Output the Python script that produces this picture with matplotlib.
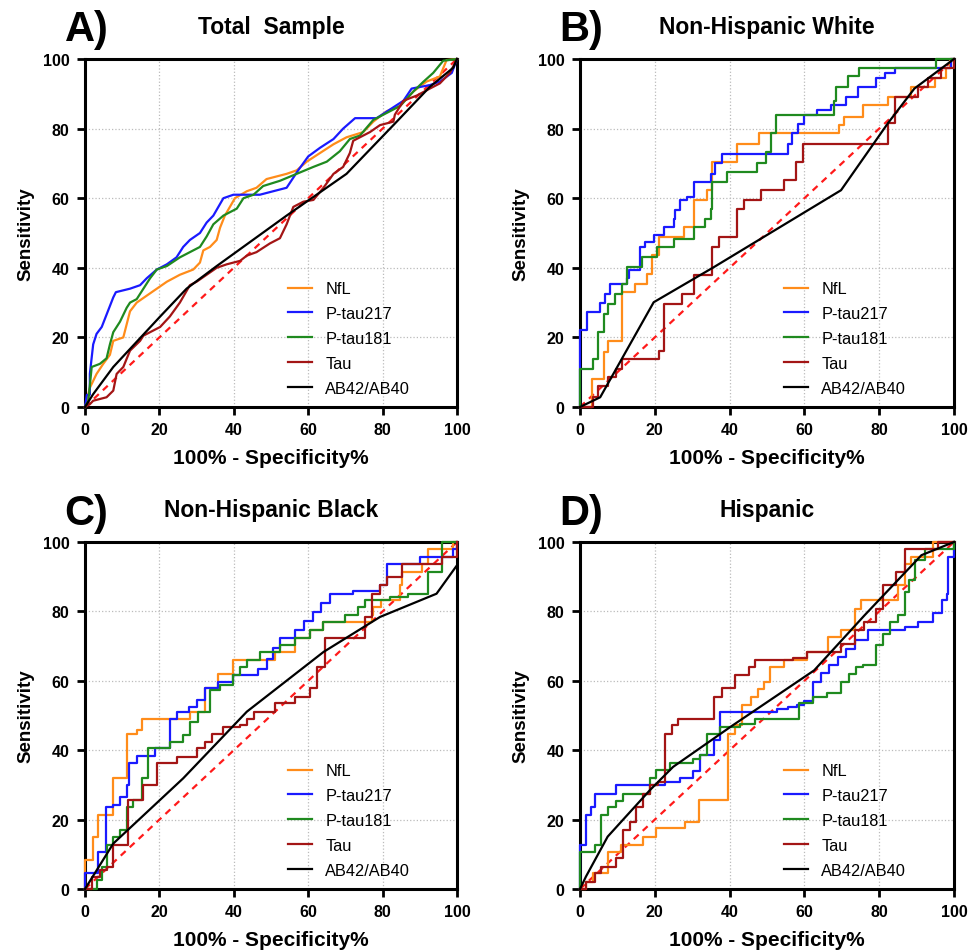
import numpy as np
import matplotlib.pyplot as plt

plt.rcParams['font.family'] = ['Liberation Sans', 'DejaVu Sans']

names = ['NfL', 'P-tau217', 'P-tau181', 'Tau', 'AB42/AB40']
colors = ['#FF8C1A', '#1A1AFF', '#1F8A1F', '#A31515', '#000000']
titles = ['Total  Sample', 'Non-Hispanic White', 'Non-Hispanic Black', 'Hispanic']
letters = ['A)', 'B)', 'C)', 'D)']

# ---- A) Total sample (dense curves, drawn as polylines)
a_nfl_x = [0, 0.45, 1.3, 3.1, 4.9, 6.7, 7.6, 10.3, 12.1, 13.9, 16.6, 19.3, 22.0, 25.5, 29.1, 30.9, 31.8, 33.6, 35.4,
           36.3, 37.6, 40.3, 43.5, 46.1, 48.8, 54.2, 56.9, 59.6, 63.2, 66.8, 70.3, 74.8, 77.5, 81.1, 84.7, 88.3, 91.8,
           95.4, 97.2, 100]
a_nfl_y = [0, 1.8, 5.5, 9.5, 12.4, 15, 19, 20, 27.5, 30, 32, 34, 36, 38, 39.5, 41.5, 45, 46, 48, 51.5, 55, 60, 62, 63,
           65.5, 67, 68, 70.5, 73, 75.5, 77.5, 79, 82, 85, 86.5, 90.7, 93.5, 95, 99.7, 100]
a_217_x = [0, 0.5, 1.3, 1.3, 2.2, 3.1, 4.5, 7.6, 8.3, 12.1, 14.8, 16.6, 19.3, 22.0, 24.6, 26.4, 28.2, 30.9, 32.7, 34.5,
           37.2, 39.9, 47.0, 50.6, 54.2, 57.3, 60.0, 63.2, 66.8, 69.4, 72.6, 78.4, 82.0, 85.6, 87.8, 92.7, 95.4, 98.6, 100]
a_217_y = [0, 3.5, 3.5, 9.5, 18, 21, 23, 31.5, 33, 34, 35, 37, 39.5, 41, 43, 46, 48, 50, 53, 55, 60, 61, 61, 62, 63, 68,
           72, 74.5, 77, 80, 83, 83, 85.5, 88, 91.5, 92.5, 93.5, 96, 100]
a_181_x = [0, 0.9, 1.8, 4.0, 5.8, 6.7, 7.6, 9.4, 11.2, 12.1, 13.9, 15.7, 17.5, 19.3, 22.0, 25.5, 28.2, 30.9, 32.7, 34.5,
           37.2, 40.8, 42.6, 45.3, 47.9, 52.4, 56.9, 61.4, 65.0, 68.5, 71.2, 73.9, 77.5, 80.2, 84.7, 88.3, 91.0, 93.6,
           96.3, 100]
a_181_y = [0, 1.8, 11.5, 12.4, 14, 18, 21.5, 24.5, 28.5, 30, 31, 34, 37, 39.5, 40.5, 43, 44.5, 46, 49, 52.5, 55, 57, 60,
           61, 63.5, 65, 67, 69, 70.5, 73.5, 77, 78, 82.5, 84, 86.5, 90.7, 93.5, 96, 99.5, 100]
a_tau_x = [0, 1.3, 2.2, 5.8, 7.6, 8.5, 10.3, 12.1, 14.8, 15.7, 20.2, 22.8, 25.5, 28.2, 30.0, 32.7, 35.4, 38.1, 41.7,
           43.5, 46.1, 49.7, 52.4, 54.2, 56.0, 58.7, 61.4, 64.1, 66.8, 69.4, 71.2, 72.1, 73.9, 76.6, 79.3, 82.9, 83.3,
           85.6, 89.2, 92.7, 95.4, 98.1, 100]
a_tau_y = [0, 0.8, 1.8, 2.8, 4.7, 9.5, 11.5, 16.2, 19, 20.5, 23, 26, 30, 35, 36, 38, 40, 41, 42, 43.5, 44.5, 47, 48.5,
           52.5, 57.5, 59, 59.5, 63, 67, 69, 73, 76.5, 77.5, 79, 81, 82, 84, 88, 89.5, 91.5, 93, 96, 100]
a_ab_x = [0, 2.2, 7.6, 20.2, 27.3, 35.4, 54.2, 70.3, 83.8, 92.7, 99.0, 100]
a_ab_y = [0, 3.7, 11.5, 26, 34, 40.5, 55, 67, 82, 92, 97.5, 100]

# ---- B) Non-Hispanic White (step curves)
b_nfl_x = [0, 3.1, 6.3, 7.6, 11.2, 14.8, 17.9, 19.2, 21.0, 27.7, 30.4, 34.0, 35.3, 42.0, 47.9, 69.3, 70.7, 75.6, 82.3,
           88.6, 94.8, 97.9, 98.8, 100]
b_nfl_y = [0, 8, 15.7, 19, 33, 35.4, 38.3, 43.6, 48.8, 51.7, 59.4, 62.3, 70.4, 75.7, 78.6, 81, 83.4, 86.8, 89.2, 92,
           94.4, 97.3, 100, 100]
b_217_x = [0, 0, 1.8, 5.4, 6.7, 8.0, 12.5, 13.2, 16.1, 17.5, 19.7, 22.4, 25.0, 25.5, 26.8, 28.6, 30.4, 34.9, 36.0, 38.0,
           55.5, 56.8, 58.3, 59.9, 63.5, 67.1, 71.0, 74.2, 79.2, 81.5, 84.1, 99.3, 100]
b_217_y = [0, 22, 27.3, 30, 32.5, 35.4, 37, 39.3, 46, 47.5, 49.3, 51.7, 54, 56.5, 59.4, 60.4, 64.7, 67, 70, 72.8, 75.5,
           78.6, 81.3, 83.9, 85.4, 86.8, 89, 92, 94.5, 96, 97.3, 100, 100]
b_181_x = [0, 0, 3.4, 4.9, 6.3, 7.6, 9.4, 11.2, 12.5, 16.5, 20.6, 25.0, 30.5, 33.5, 34.9, 35.3, 39.4, 47.4, 49.6, 51.0,
           52.3, 68.0, 68.4, 71.6, 74.7, 95.3, 100]
b_181_y = [0, 11, 13.8, 21.5, 26.8, 29.7, 32.5, 35.4, 40.2, 43, 46, 48.4, 51.7, 54, 57, 64.7, 67.6, 70, 73.3, 78.6,
           83.9, 88, 92, 95, 97.3, 100, 100]
b_tau_x = [0, 3.5, 4.9, 7.6, 9.5, 11.2, 21.0, 22.4, 27.3, 30.4, 35.3, 37.1, 42.0, 43.8, 48.3, 54.6, 57.7, 59.5, 82.3,
           84.1, 90.3, 93.0, 96.6, 100]
b_tau_y = [0, 2.8, 6, 8.5, 11, 13.8, 16.2, 29.7, 32.5, 37.8, 46, 48.8, 57, 59.4, 62.3, 65.2, 70.4, 75.7, 81.5, 89.2, 92,
           94.4, 97.3, 100]
b_ab_x = [0, 5.4, 19.7, 35.8, 69.8, 82.3, 89.4, 100]
b_ab_y = [0, 2.8, 30.1, 40.2, 62.3, 81.5, 91.5, 100]

# ---- C) Non-Hispanic Black
c_nfl_x = [0, 0, 2.1, 3.6, 7.6, 11.2, 13.9, 15.2, 28.2, 32.3, 35.8, 39.9, 51.1, 56.5, 60.5, 64.1, 77.1, 77.5, 79.7,
           84.7, 85.1, 90.5, 92.3, 99.0, 100]
c_nfl_y = [0, 8.5, 15, 21.3, 31.9, 44.8, 45.8, 49.1, 51.1, 57.8, 62.1, 65.9, 68.3, 72.2, 74.6, 77, 79, 81.3, 83.2,
           87.5, 91.4, 93.8, 98.1, 100, 100]
c_217_x = [0, 0, 3.6, 5.6, 7.6, 9.4, 11.2, 11.9, 13.9, 18.8, 22.8, 24.6, 28.0, 30.0, 32.3, 35.8, 39.9, 46.5, 48.8, 50.5,
           52.4, 56.5, 59.0, 61.4, 63.5, 65.9, 72.1, 79.3, 81.1, 90.1, 99.0, 100]
c_217_y = [0, 4.5, 10.7, 23.7, 24.2, 26.6, 29.9, 36.2, 38.3, 40.5, 49.1, 51.1, 52.5, 54.5, 57.8, 59.7, 61.6, 63.5, 66.4,
           69.5, 72.2, 74.6, 77.3, 79.8, 82.5, 85.1, 86, 87.5, 93.8, 95.7, 98.1, 100]
c_181_x = [0, 3.1, 4.5, 5.8, 7.6, 9.4, 11.2, 13.0, 15.2, 17.0, 22.8, 26.4, 28.2, 30.5, 33.6, 36.3, 39.9, 41.7, 43.5,
           47.0, 52.4, 56.5, 60.5, 64.1, 69.9, 73.5, 75.3, 81.9, 86.9, 92.3, 95.9, 100]
c_181_y = [0, 2.6, 6.4, 12.7, 15.1, 17, 23.7, 25.6, 31.9, 40.5, 42.4, 44.3, 48.2, 51.1, 57.3, 58.7, 61.6, 64, 65.9,
           68.3, 70.2, 72.2, 74.6, 77, 78.9, 81.3, 83.2, 84.2, 85.1, 91.4, 100, 100]
c_tau_x = [0, 1.8, 4.0, 5.8, 7.6, 11.6, 15.7, 19.3, 24.6, 30.0, 32.3, 34.1, 37.2, 41.7, 43.5, 45.3, 51.1, 56.5, 60.5,
           62.3, 64.5, 75.3, 77.1, 79.3, 81.1, 85.1, 95.9, 100]
c_tau_y = [0, 3.6, 5.5, 6.4, 12.7, 25.6, 29.9, 36.2, 38.1, 40.5, 42.4, 44.8, 46.7, 47.2, 49.1, 51.1, 53.5, 55.4, 57.8,
           64, 72.2, 78.4, 85.1, 87.5, 89.9, 93.8, 95.7, 100]
c_ab_x = [0, 7.6, 26.4, 43.5, 64.1, 79.3, 94.5, 100]
c_ab_y = [0, 13.1, 31.9, 51.1, 68.3, 78.4, 85.1, 93.3]

# ---- D) Hispanic
d_nfl_x = [0, 1.6, 3.5, 7.4, 11.0, 16.9, 20.4, 28.1, 31.7, 39.7, 41.5, 43.3, 45.6, 47.5, 49.1, 50.9, 54.5, 60.8, 66.2,
           69.8, 73.4, 75.2, 85.0, 86.8, 88.6, 94.4, 100]
d_nfl_y = [0, 2.1, 4.5, 10.7, 12.7, 15.1, 17.5, 19.4, 25.6, 44.8, 47.2, 53, 55.4, 57.5, 59.7, 64, 65.9, 68.3, 72.6,
           74.6, 80.8, 83.2, 87.5, 93.8, 95.7, 100, 100]
d_217_x = [0, 0, 1.6, 3.0, 3.9, 9.7, 22.7, 26.7, 30.3, 32.1, 35.7, 37.5, 52.7, 55.5, 58.1, 60.0, 62.2, 64.5, 66.7, 68.9,
           71.2, 73.4, 77.0, 86.8, 90.5, 94.4, 96.7, 98.0, 98.5, 100]
d_217_y = [0, 12.7, 21.3, 23.7, 27.5, 29.9, 30.9, 31.9, 34, 38.6, 42.9, 51.1, 52, 52.5, 53, 54.3, 59.7, 62.2, 64.6,
           66.9, 69.3, 71.7, 74.6, 75.5, 77, 79.4, 83.2, 85.1, 95.7, 100]
d_181_x = [0, 0, 3.9, 5.7, 7.4, 9.5, 11.5, 18.7, 20.4, 24.0, 30.3, 32.1, 33.9, 37.5, 42.9, 46.9, 58.6, 62.2, 66.0,
           69.8, 71.8, 73.8, 75.6, 79.2, 81.0, 82.8, 85.0, 86.8, 88.0, 89.5, 92.2, 100]
d_181_y = [0, 10.7, 12.7, 21.3, 23.7, 25.5, 27.5, 31.9, 34.3, 36.2, 37.5, 38.6, 44.8, 46.7, 47.5, 49.1, 53.5, 55.4,
           56.5, 59.7, 62, 64, 64.5, 70.2, 73.5, 77, 78.9, 85.6, 89, 94.7, 98.1, 100]
d_tau_x = [0, 1.6, 3.9, 5.7, 9.7, 11.5, 13.3, 15.1, 16.9, 18.7, 20.9, 22.7, 24.5, 26.3, 35.7, 37.9, 41.5, 45.1, 46.9,
           57.0, 60.8, 69.8, 73.4, 76.0, 79.2, 81.0, 84.6, 86.8, 95.8, 100]
d_tau_y = [0, 2.1, 4.5, 6.4, 8.8, 17, 19.4, 23.7, 27.5, 29.9, 30.9, 44.8, 47.2, 49.1, 55.4, 57.8, 61.6, 64, 65.9,
           66.5, 68.3, 70.7, 74.6, 77, 80.8, 87.5, 91.4, 98.1, 100, 100]
d_ab_x = [0, 1.6, 7.4, 18.7, 24.9, 40.2, 62.6, 76.1, 91.3, 100]
d_ab_y = [0, 3.6, 15.1, 28.5, 35.2, 46.7, 63, 78.9, 96.2, 100]

panels = [
    [(a_nfl_x, a_nfl_y), (a_217_x, a_217_y), (a_181_x, a_181_y), (a_tau_x, a_tau_y), (a_ab_x, a_ab_y)],
    [(b_nfl_x, b_nfl_y), (b_217_x, b_217_y), (b_181_x, b_181_y), (b_tau_x, b_tau_y), (b_ab_x, b_ab_y)],
    [(c_nfl_x, c_nfl_y), (c_217_x, c_217_y), (c_181_x, c_181_y), (c_tau_x, c_tau_y), (c_ab_x, c_ab_y)],
    [(d_nfl_x, d_nfl_y), (d_217_x, d_217_y), (d_181_x, d_181_y), (d_tau_x, d_tau_y), (d_ab_x, d_ab_y)],
]

W, H = 968, 953
boxes = [(85, 60, 457, 408), (580, 60, 954, 408), (85, 543, 457, 890), (580, 543, 954, 890)]

fig = plt.figure(figsize=(W / 100, H / 100), dpi=100)

for i, (x0, y0, x1, y1) in enumerate(boxes):
    ax = fig.add_axes([x0 / W, 1 - y1 / H, (x1 - x0) / W, (y1 - y0) / H])
    for j, (xs, ys) in enumerate(panels[i]):
        ds = 'default' if (i == 0 or j == 4) else 'steps-post'
        ax.plot(xs, ys, color=colors[j], lw=1.6, drawstyle=ds, label=names[j], zorder=3, clip_on=False)
    ax.plot([0, 100], [0, 100], color='#FF1A1A', lw=1.6, ls=(0, (3, 2.5)), zorder=2)
    ax.set_xlim(0, 100)
    ax.set_ylim(0, 100)
    ax.set_xticks(np.arange(0, 101, 20))
    ax.set_yticks(np.arange(0, 101, 20))
    ax.grid(True, color='#BBBBBB', ls=':', lw=0.9)
    ax.set_axisbelow(True)
    for s in ax.spines.values():
        s.set_linewidth(2.2)
    ax.tick_params(direction='out', length=6, width=2, labelsize=11.5, pad=5)
    for lab in ax.get_xticklabels() + ax.get_yticklabels():
        lab.set_fontweight('bold')
    ax.set_xlabel('100% - Specificity%', fontsize=15, fontweight='bold', labelpad=8)
    ax.set_ylabel('Sensitivity', fontsize=13.5, fontweight='bold', labelpad=6)
    ax.set_title(titles[i], fontsize=16.5, fontweight='bold', pad=19)
    ax.text(-0.055, 1.085, letters[i], transform=ax.transAxes, fontsize=30, fontweight='bold',
            ha='left', va='center')
    ax.legend(loc='lower left', bbox_to_anchor=(0.505, -0.01), frameon=False, fontsize=11.8,
              handlelength=1.5, handletextpad=0.8, labelspacing=0.6)

fig.savefig('out.png', dpi=100)
